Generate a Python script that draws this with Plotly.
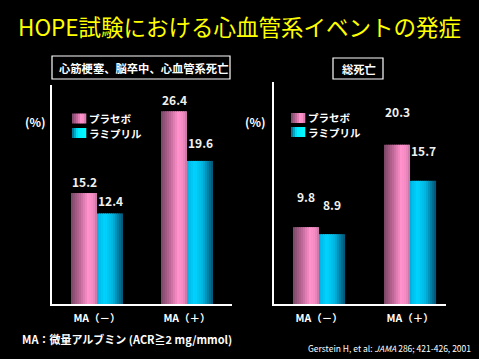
import plotly.graph_objects as go

W, H = 479, 359

# ---- data ----
categories = ["MA（－）", "MA（＋）"]
series_names = ["プラセボ", "ラミプリル"]
cv_placebo = [15.2, 26.4]
cv_ramipril = [12.4, 19.6]
death_placebo = [9.8, 20.3]
death_ramipril = [8.9, 15.7]
panel_titles = ["心筋梗塞、脳卒中、心血管系死亡", "総死亡"]
title_text = "HOPE試験における心血管系イベントの発症"
footnote = "MA：微量アルブミン (ACR≧2 mg/mmol)"
citation = "Gerstein H, et al: <i>JAMA</i> 286; 421-426, 2001"

# ---- styling ----
FONT = "Noto Sans CJK JP, Noto Sans, sans-serif"
pink_stops = [(0, (0x78, 0x46, 0x66)), (0.35, (0xc0, 0x68, 0x98)), (0.65, (0xff, 0x92, 0xcc)),
              (0.85, (0xf4, 0x8a, 0xc2)), (1, (0xc0, 0x74, 0xa0))]
cyan_stops = [(0, (0x00, 0xb4, 0xe4)), (0.3, (0x00, 0xd4, 0xff)), (0.6, (0x00, 0xb4, 0xe0)),
              (1, (0x00, 0x50, 0x70))]
swatch_cyan = [(0, (0x00, 0x60, 0x80)), (0.4, (0x00, 0xe8, 0xff)), (1, (0x00, 0xff, 0xff))]
NSTRIP = 13


def grad(stops, t):
    for (t0, c0), (t1, c1) in zip(stops[:-1], stops[1:]):
        if t0 <= t <= t1:
            f = (t - t0) / (t1 - t0) if t1 > t0 else 0
            c = [round(a + (b - a) * f) for a, b in zip(c0, c1)]
            return "rgb(%d,%d,%d)" % tuple(c)
    return "rgb(%d,%d,%d)" % stops[-1][1]


def px(x):
    return x / W


def py(y):
    return 1 - y / H


def note(x, y, text, size, color="white", xanchor="center", yanchor="middle"):
    fig.add_annotation(x=px(x), y=py(y), xref="paper", yref="paper", text=text,
                       showarrow=False, xanchor=xanchor, yanchor=yanchor,
                       font=dict(family=FONT, size=size, color=color))


fig = go.Figure()

panels = [
    dict(xa="x", ya="y", placebo=cv_placebo, ramipril=cv_ramipril, bw=0.289),
    dict(xa="x2", ya="y2", placebo=death_placebo, ramipril=death_ramipril, bw=0.286),
]
xpos = list(range(len(categories)))

for p in panels:
    bw = p["bw"]
    for vals, stops, base in [(p["placebo"], pink_stops, -bw), (p["ramipril"], cyan_stops, 0.0)]:
        sw = bw / NSTRIP
        for i in range(NSTRIP):
            t = (i + 0.5) / NSTRIP
            fig.add_trace(go.Bar(
                x=xpos, y=vals, xaxis=p["xa"], yaxis=p["ya"],
                width=sw * (1.6 if i < NSTRIP - 1 else 1.0), offset=base + i * sw,
                marker=dict(color=grad(stops, t), line=dict(width=0)),
                showlegend=False, hoverinfo="skip"))

# value labels (shift above bar top, px)
label_shift = {
    ("x", 0): (1, 2), ("x", 1): (1, 8),
    ("x2", 0): (20, 19), ("x2", 1): (23, 20),
}
for p in panels:
    bw = p["bw"]
    for i in xpos:
        s_pl, s_ra = label_shift[(p["xa"], i)]
        for vals, dx, sh in [(p["placebo"], -bw / 2, s_pl), (p["ramipril"], bw / 2, s_ra)]:
            fig.add_annotation(x=i + dx, y=vals[i], xref=p["xa"], yref=p["ya"],
                               text="<b>%.1f</b>" % vals[i], showarrow=False,
                               xanchor="center", yanchor="bottom", yshift=sh,
                               font=dict(family=FONT, size=12, color="#f0f0f0"))

tick_text = ["<b>%s</b>" % c for c in categories]
axis_common = dict(showgrid=False, zeroline=False, showline=True, linecolor="white", linewidth=2)
fig.update_layout(
    width=W, height=H, margin=dict(l=0, r=0, t=0, b=0),
    paper_bgcolor="black", plot_bgcolor="black", barmode="overlay",
    showlegend=False,
    xaxis=dict(domain=[px(52), px(232)], range=[-0.5, 1.5], tickvals=xpos, ticktext=tick_text,
               ticks="", ticklabelstandoff=3,
               tickfont=dict(family=FONT, size=10.5, color="white"), **axis_common),
    yaxis=dict(domain=[py(304), py(85)], range=[0, 30], showticklabels=False, ticks="", **axis_common),
    xaxis2=dict(domain=[px(274), px(446)], range=[-0.495, 1.395], tickvals=xpos, ticktext=tick_text,
                ticks="", ticklabelstandoff=3,
                tickfont=dict(family=FONT, size=10.5, color="white"), anchor="y2", **axis_common),
    yaxis2=dict(domain=[py(304), py(82)], range=[0, 28.3], showticklabels=False, ticks="",
                anchor="x2", **axis_common),
)

# title
note(239, 26, title_text, 22.5, color="#ffff00")

# panel header boxes
boxes = [((52, 56, 230, 79), panel_titles[0], 143), ((333, 58, 383, 79), panel_titles[1], 359)]
for (x0, y0, x1, y1), txt, cx in boxes:
    fig.add_shape(type="rect", xref="paper", yref="paper", x0=px(x0), x1=px(x1), y0=py(y1), y1=py(y0),
                  line=dict(color="white", width=1.2), fillcolor="rgba(0,0,0,0)")
    note(cx, (y0 + y1) / 2, "<b>%s</b>" % txt, 11.3)

# (%) labels
for cx, cy in [(35, 121), (256, 122)]:
    note(cx, cy, "<b>(%)</b>", 12)

# legends
legs = [(72, 113.5, 128, 118.5, 133.5), (291, 113, 127, 118, 132.5)]
for lx, y_p, y_r, ty_p, ty_r in legs:
    for ytop, stops, name, ty in [(y_p, pink_stops, series_names[0], ty_p),
                                  (y_r, swatch_cyan, series_names[1], ty_r)]:
        n = 7
        for i in range(n):
            fig.add_shape(type="rect", xref="paper", yref="paper",
                          x0=px(lx + 14 * i / n), x1=px(lx + 14 * (i + 1) / n + 0.3),
                          y0=py(ytop + 10), y1=py(ytop), line=dict(width=0),
                          fillcolor=grad(stops, (i + 0.5) / n))
        note(lx + 15, ty, "<b>%s</b>" % name, 10.5, xanchor="left")

# footnotes
note(20, 339, "<b>%s</b>" % footnote, 11, xanchor="left")
note(473, 348, citation, 8.5, xanchor="right")

fig.write_html("out.html", post_script="document.body.style.margin='0';",
               config={"displayModeBar": False})
